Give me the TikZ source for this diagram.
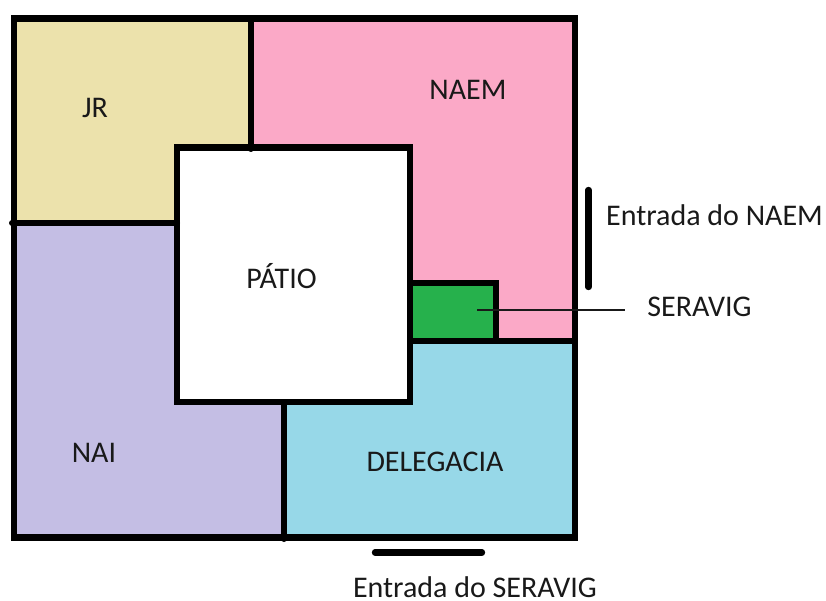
\documentclass[tikz,border=0pt]{standalone}
\usepackage{fontspec}
\setmainfont{Carlito}
\definecolor{jrc}{HTML}{ECE2AC}
\definecolor{naemc}{HTML}{FBA9C7}
\definecolor{naic}{HTML}{C4BEE4}
\definecolor{delc}{HTML}{97D8E8}
\definecolor{serc}{HTML}{26B14C}
\tikzset{
  wall/.style={line width=6.5pt,line join=miter,line cap=butt},
  partition/.style={line width=6pt,line cap=round},
  entry/.style={line width=6.3pt,line cap=round},
  lead/.style={line width=1.2pt,draw=black!90},
  lbl/.style={font=\fontsize{30}{32}\selectfont,inner sep=0pt,anchor=base,text=black!90}
}
\begin{document}
\begin{tikzpicture}[x=1pt,y=-1pt]
\useasboundingbox (0,0) rectangle (826,601);
% regions
\fill[jrc] (14,18.5) -- (250.5,18.5) -- (250.5,147.5) -- (177,147.5) -- (177,223) -- (14,223) -- cycle;
\fill[naemc] (250.5,18.5) -- (575,18.5) -- (575,341) -- (410,341) -- (410,147.5) -- (250.5,147.5) -- cycle;
\fill[naic] (14,223) -- (177,223) -- (177,402) -- (284,402) -- (284,537.5) -- (14,537.5) -- cycle;
\fill[delc] (284,402) -- (410,402) -- (410,341) -- (575,341) -- (575,537.5) -- (284,537.5) -- cycle;
\fill[serc] (410,283) rectangle (496,341);
% walls
\draw[wall] (14,18.5) rectangle (575,537.5);
\draw[wall,fill=white] (177,147.5) rectangle (410,402);
\draw[wall] (410,283) -- (496,283) -- (496,341);
\draw[wall] (410,341) -- (575,341);
\draw[partition] (250.5,20) -- (250.5,149);
\draw[partition] (12,223) -- (177,223);
\draw[partition] (284,402) -- (284,539);
% entries
\draw[entry] (588.5,190) -- (588.5,287);
\draw[entry] (375,552.5) -- (482,552.5);
% labels
\node[lbl] (jr) at (95,118) {JR};
\node[lbl] (naem) at (468,100) {NAEM};
\node[lbl] (patio) at (281.5,288) {PÁTIO};
\node[lbl] (nai) at (94,462) {NAI};
\node[lbl] (del) at (435,471) {DELEGACIA};
\node[lbl] (seravig) at (699.5,316) {SERAVIG};
\node[lbl] (entnaem) at (714.5,226) {Entrada do NAEM};
\node[lbl] (entser) at (475,597) {Entrada do SERAVIG};
% leader
\coordinate (greenpt) at (477,310);
\coordinate (leadend) at (625,310);
\draw[lead] (greenpt) -- (leadend);
\end{tikzpicture}
\end{document}
